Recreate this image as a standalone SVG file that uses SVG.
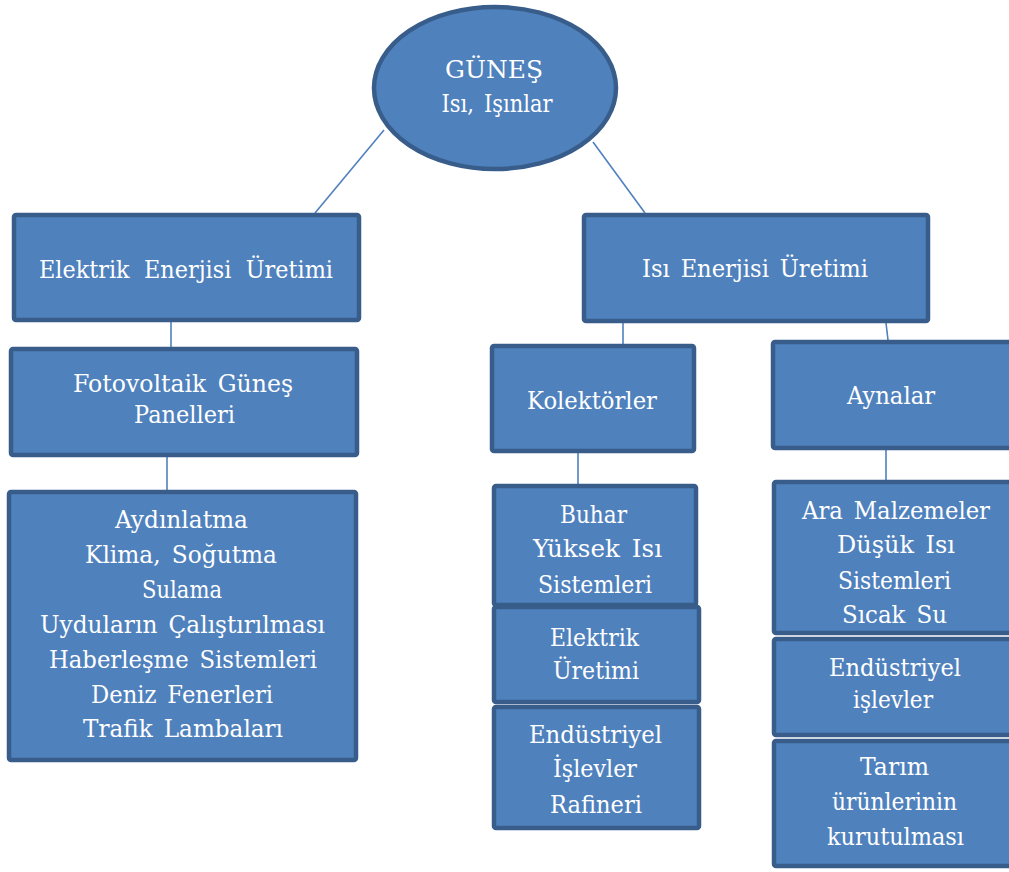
<svg xmlns="http://www.w3.org/2000/svg" width="1009" height="872" viewBox="0 0 1009 872">
<style>
.n{fill:#4f81bd;stroke:#385d8a;stroke-width:4.5}
text{font-family:'DejaVu Serif',serif;font-size:24.5px;fill:#ffffff;text-anchor:middle;word-spacing:4px}
.c{stroke:#4f81bd;stroke-width:1.6;fill:none}
</style>
<rect width="1009" height="872" fill="#ffffff"/>
<g id="connectors">
<line class="c" x1="384" y1="130" x2="315" y2="213"/>
<line class="c" x1="593" y1="142" x2="645" y2="213"/>
<line class="c" x1="171" y1="322" x2="171" y2="347"/>
<line class="c" x1="167" y1="457" x2="167" y2="490"/>
<line class="c" x1="623" y1="323" x2="623" y2="344"/>
<line class="c" x1="886" y1="323" x2="888" y2="340"/>
<line class="c" x1="578" y1="453" x2="578" y2="484"/>
<line class="c" x1="886" y1="450" x2="886" y2="480"/>
</g>
<g id="gunes">
<ellipse class="n" cx="495" cy="88" rx="121" ry="81"/>
<text x="494" y="78" textLength="98" lengthAdjust="spacingAndGlyphs">GÜNEŞ</text>
<text x="497" y="112" textLength="111" lengthAdjust="spacingAndGlyphs">Isı, Işınlar</text>
</g>
<g id="elektrik-enerjisi">
<rect class="n" x="14" y="215" width="345" height="105" rx="2"/>
<text x="186" y="278" textLength="294" lengthAdjust="spacingAndGlyphs" style="word-spacing:8px">Elektrik Enerjisi Üretimi</text>
</g>
<g id="fotovoltaik">
<rect class="n" x="11" y="349" width="346" height="106" rx="2"/>
<text x="183" y="392" textLength="220" lengthAdjust="spacingAndGlyphs">Fotovoltaik Güneş</text>
<text x="184.5" y="423" textLength="101" lengthAdjust="spacingAndGlyphs">Panelleri</text>
</g>
<g id="uygulamalar">
<rect class="n" x="9" y="492" width="347" height="268" rx="2"/>
<text x="181.5" y="528" textLength="133" lengthAdjust="spacingAndGlyphs">Aydınlatma</text>
<text x="181" y="563" textLength="192" lengthAdjust="spacingAndGlyphs">Klima, Soğutma</text>
<text x="182" y="598" textLength="80" lengthAdjust="spacingAndGlyphs">Sulama</text>
<text x="182.5" y="633" textLength="285" lengthAdjust="spacingAndGlyphs">Uyduların Çalıştırılması</text>
<text x="183" y="668" textLength="268" lengthAdjust="spacingAndGlyphs">Haberleşme Sistemleri</text>
<text x="182" y="703" textLength="182" lengthAdjust="spacingAndGlyphs">Deniz Fenerleri</text>
<text x="183" y="737" textLength="200" lengthAdjust="spacingAndGlyphs">Trafik Lambaları</text>
</g>
<g id="isi-enerjisi">
<rect class="n" x="584" y="215" width="344" height="106" rx="2"/>
<text x="755" y="277" textLength="226" lengthAdjust="spacingAndGlyphs">Isı Enerjisi Üretimi</text>
</g>
<g id="kolektorler">
<rect class="n" x="492" y="346" width="202" height="105" rx="2"/>
<text x="592" y="409" textLength="130" lengthAdjust="spacingAndGlyphs">Kolektörler</text>
</g>
<g id="aynalar">
<rect class="n" x="773" y="342" width="250" height="106" rx="2"/>
<text x="891" y="404" textLength="88" lengthAdjust="spacingAndGlyphs">Aynalar</text>
</g>
<g id="buhar">
<rect class="n" x="494" y="486" width="202" height="119" rx="2"/>
<text x="593.5" y="523" textLength="67" lengthAdjust="spacingAndGlyphs">Buhar</text>
<text x="597.5" y="557" textLength="129" lengthAdjust="spacingAndGlyphs">Yüksek Isı</text>
<text x="595" y="593" textLength="114" lengthAdjust="spacingAndGlyphs">Sistemleri</text>
</g>
<g id="elektrik-uretimi">
<rect class="n" x="494" y="607" width="205" height="95" rx="2"/>
<text x="594.5" y="646" textLength="89" lengthAdjust="spacingAndGlyphs">Elektrik</text>
<text x="596" y="679" textLength="86" lengthAdjust="spacingAndGlyphs">Üretimi</text>
</g>
<g id="endustriyel-rafineri">
<rect class="n" x="494" y="707" width="205" height="121" rx="2"/>
<text x="595.5" y="743" textLength="133" lengthAdjust="spacingAndGlyphs">Endüstriyel</text>
<text x="595" y="777" textLength="84" lengthAdjust="spacingAndGlyphs">İşlevler</text>
<text x="596" y="813" textLength="92" lengthAdjust="spacingAndGlyphs">Rafineri</text>
</g>
<g id="ara-malzemeler">
<rect class="n" x="774" y="482" width="250" height="151" rx="2"/>
<text x="896" y="519" textLength="188" lengthAdjust="spacingAndGlyphs">Ara Malzemeler</text>
<text x="896" y="553" textLength="118" lengthAdjust="spacingAndGlyphs">Düşük Isı</text>
<text x="894.5" y="589" textLength="113" lengthAdjust="spacingAndGlyphs">Sistemleri</text>
<text x="894.5" y="623" textLength="105" lengthAdjust="spacingAndGlyphs">Sıcak Su</text>
</g>
<g id="endustriyel-islevler">
<rect class="n" x="774" y="639" width="250" height="96" rx="2"/>
<text x="895" y="676" textLength="132" lengthAdjust="spacingAndGlyphs">Endüstriyel</text>
<text x="893" y="708" textLength="80" lengthAdjust="spacingAndGlyphs">işlevler</text>
</g>
<g id="tarim">
<rect class="n" x="774" y="741" width="250" height="125" rx="2"/>
<text x="894.5" y="775" textLength="69" lengthAdjust="spacingAndGlyphs">Tarım</text>
<text x="894.5" y="810" textLength="125" lengthAdjust="spacingAndGlyphs">ürünlerinin</text>
<text x="895.5" y="845" textLength="137" lengthAdjust="spacingAndGlyphs">kurutulması</text>
</g>
</svg>
